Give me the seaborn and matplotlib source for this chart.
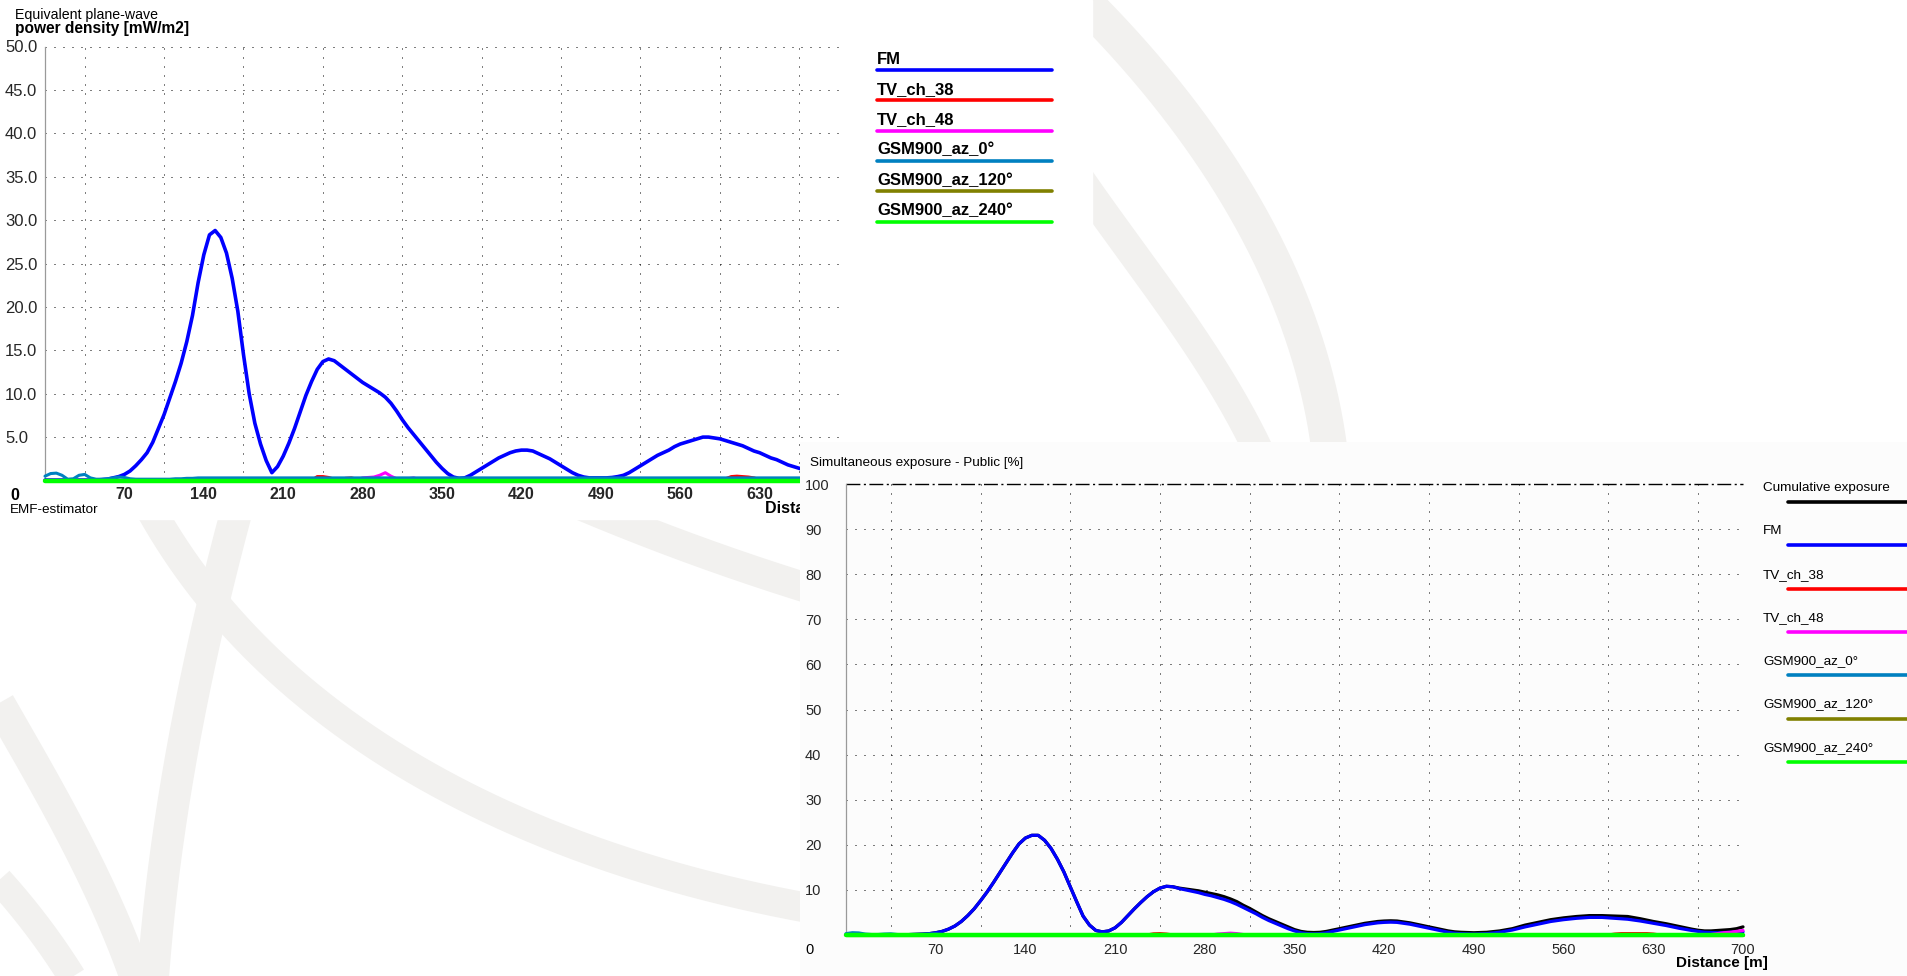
import numpy as np
import pandas as pd
import matplotlib
matplotlib.use("Agg")
import matplotlib.pyplot as plt
from matplotlib.transforms import Affine2D
from matplotlib.patches import Rectangle
from matplotlib.lines import Line2D
import seaborn as sns

# ---------------------------------------------------------------- data
distance = list(range(0, 701, 5))  # [m]

series_names = ["FM", "TV_ch_38", "TV_ch_48",
                "GSM900_az_0°", "GSM900_az_120°", "GSM900_az_240°"]
series_colors = ["#0000ff", "#ff0000", "#ff00ff",
                 "#0080c0", "#808000", "#00ff00"]

# Equivalent plane-wave power density [mW/m2]
pd_fm = ([0.05] * 10 +
         [0.1, 0.15, 0.3, 0.45, 0.7, 1.1, 1.7, 2.4, 3.2, 4.4,        # 50-95
          6.0, 7.6, 9.5, 11.4, 13.5, 16.0, 19.0, 22.8, 26.0, 28.3,   # 100-145
          28.8, 28.0, 26.2, 23.3, 19.5, 14.5, 10.0, 6.6, 4.2, 2.3,   # 150-195
          0.9, 1.6, 2.8, 4.3, 6.0, 7.9, 9.8, 11.4, 12.8, 13.7,       # 200-245
          14.0, 13.8, 13.3, 12.8, 12.3, 11.8, 11.3, 10.9, 10.5, 10.1,  # 250-295
          9.6, 8.9, 8.0, 7.0, 6.1, 5.3, 4.5, 3.7, 2.9, 2.1,          # 300-345
          1.4, 0.8, 0.4, 0.25, 0.3, 0.6, 1.0, 1.4, 1.8, 2.2,         # 350-395
          2.6, 2.9, 3.2, 3.4, 3.5, 3.5, 3.4, 3.1, 2.8, 2.5,          # 400-445
          2.1, 1.7, 1.3, 0.9, 0.6, 0.4, 0.3, 0.3, 0.3, 0.3,          # 450-495
          0.35, 0.45, 0.6, 0.9, 1.3, 1.7, 2.1, 2.5, 2.9, 3.2,        # 500-545
          3.5, 3.9, 4.2, 4.4, 4.6, 4.8, 5.0, 5.0, 4.9, 4.8,          # 550-595
          4.6, 4.4, 4.2, 4.0, 3.7, 3.4, 3.2, 2.9, 2.6, 2.4,          # 600-645
          2.1, 1.8, 1.6, 1.4, 1.2, 1.0, 0.9, 0.8, 0.7, 0.65, 0.6])   # 650-700
pd_tv38 = ([0.0] * 48 + [0.45, 0.45, 0.35, 0.15, 0.1, 0.25, 0.3, 0.15, 0.05] +
           [0.0] * 63 + [0.2, 0.45, 0.5, 0.45, 0.4, 0.3, 0.1] + [0.0] * 14)
pd_tv48 = ([0.0] * 55 +
           [0.1, 0.3, 0.35, 0.4, 0.6, 0.9, 0.5, 0.2, 0.1, 0.2, 0.3, 0.1, 0.0] +
           [0.0] * 69 + [0.2, 0.4, 0.7, 1.0])
pd_gsm0 = ([0.5, 0.8, 0.85, 0.6, 0.15, 0.2, 0.6, 0.7, 0.3, 0.15, 0.15,
            0.2, 0.3, 0.4, 0.35, 0.2, 0.15, 0.15, 0.15, 0.15, 0.15] +
           [0.15, 0.15, 0.2, 0.2, 0.25, 0.25, 0.3] + [0.3] * 113)
pd_gsm120 = [0.1] * 141
pd_gsm240 = [0.0] * 141

# Simultaneous exposure - Public [%]
ex_fm = ([0.05] * 10 +
         [0.1, 0.15, 0.2, 0.3, 0.5, 0.8, 1.3, 2.0, 3.0, 4.3,        # 50-95
          5.8, 7.6, 9.5, 11.6, 13.8, 16.0, 18.2, 20.2, 21.5, 22.1,   # 100-145
          22.1, 21.0, 19.2, 16.8, 14.0, 10.7, 7.4, 4.2, 2.2, 1.0,    # 150-195
          0.7, 0.9, 1.6, 2.8, 4.3, 5.8, 7.2, 8.5, 9.6, 10.4,         # 200-245
          10.8, 10.7, 10.3, 10.0, 9.7, 9.4, 9.0, 8.7, 8.3, 7.9,      # 250-295
          7.4, 6.8, 6.1, 5.4, 4.7, 3.9, 3.2, 2.6, 2.0, 1.4,          # 300-345
          0.9, 0.5, 0.3, 0.25, 0.3, 0.5, 0.8, 1.1, 1.4, 1.7,         # 350-395
          2.0, 2.3, 2.5, 2.7, 2.8, 2.85, 2.8, 2.6, 2.4, 2.1,         # 400-445
          1.8, 1.5, 1.2, 0.9, 0.6, 0.4, 0.3, 0.25, 0.2, 0.25,        # 450-495
          0.3, 0.45, 0.6, 0.85, 1.1, 1.45, 1.8, 2.1, 2.4, 2.7,       # 500-545
          3.0, 3.2, 3.4, 3.55, 3.7, 3.8, 3.9, 3.9, 3.9, 3.8,         # 550-595
          3.7, 3.6, 3.5, 3.3, 3.1, 2.85, 2.6, 2.35, 2.1, 1.8,        # 600-645
          1.5, 1.25, 1.0, 0.8, 0.6, 0.55, 0.5, 0.55, 0.6, 0.65, 0.7])  # 650-700
ex_cum = (ex_fm[:52] +
          [10.4, 10.2, 10.0, 9.8, 9.5, 9.2, 8.9, 8.5,                # 260-295
           8.0, 7.4, 6.6, 5.9, 5.1, 4.3, 3.6, 3.0, 2.4, 1.8,         # 300-345
           1.2, 0.8, 0.6, 0.55, 0.6, 0.8, 1.1, 1.4, 1.7, 2.0,        # 350-395
           2.3, 2.6, 2.8, 3.0, 3.1, 3.15, 3.1, 2.9, 2.7, 2.4,        # 400-445
           2.1, 1.8, 1.5, 1.2, 0.9, 0.7, 0.6, 0.55, 0.5, 0.55,       # 450-495
           0.6, 0.75, 0.9, 1.15, 1.4, 1.8, 2.2, 2.5, 2.8, 3.1,       # 500-545
           3.4, 3.6, 3.8, 3.95, 4.1, 4.2, 4.3, 4.3, 4.3, 4.25,       # 550-595
           4.2, 4.15, 4.1, 3.85, 3.6, 3.3, 3.0, 2.75, 2.5, 2.2,      # 600-645
           1.9, 1.6, 1.3, 1.05, 0.9, 0.9, 1.0, 1.1, 1.2, 1.4, 1.8])  # 650-700
ex_tv38 = ([0.0] * 48 + [0.25, 0.3, 0.2] + [0.0] * 69 +
           [0.2, 0.3, 0.3, 0.3, 0.3, 0.3, 0.2] + [0.0] * 14)
ex_tv48 = ([0.0] * 58 + [0.2, 0.3, 0.4, 0.3, 0.1] + [0.0] * 72 +
           [0.1, 0.3, 0.5, 0.6, 0.8, 1.0])
ex_gsm0 = ([0.3, 0.5, 0.45, 0.2, 0.1, 0.1, 0.2, 0.25, 0.1, 0.05, 0.05,
            0.05, 0.1, 0.15, 0.2, 0.1] + [0.05] * 125)
ex_gsm120 = [0.03] * 141
ex_gsm240 = [0.0] * 141

top_values = [pd_fm, pd_tv38, pd_tv48, pd_gsm0, pd_gsm120, pd_gsm240]
bot_names = ["Cumulative exposure"] + series_names
bot_colors = ["#000000"] + series_colors
bot_values = [ex_cum, ex_fm, ex_tv38, ex_tv48, ex_gsm0, ex_gsm120, ex_gsm240]
for vals in top_values + bot_values:
    assert len(vals) == len(distance), len(vals)


def long_form(names, values):
    frames = [pd.DataFrame({"distance": distance, "value": v, "series": n})
              for n, v in zip(names, values)]
    return pd.concat(frames, ignore_index=True)


df_top = long_form(series_names, top_values)
df_bot = long_form(bot_names, bot_values)

# ---------------------------------------------------------------- style
sns.set_style("white")
plt.rcParams["font.family"] = ["Liberation Sans", "DejaVu Sans"]
plt.rcParams["axes.unicode_minus"] = False

W, H = 1908, 976
fig = plt.figure(figsize=(W / 100, H / 100), dpi=100)
fig.patch.set_facecolor("white")
# pixel coordinates with the origin in the top-left corner
px = Affine2D().scale(1 / W, -1 / H).translate(0, 1) + fig.transFigure


def box(x0, y0, x1, y1):
    return [x0 / W, 1 - y1 / H, (x1 - x0) / W, (y1 - y0) / H]


def ftext(x, y, s, size, bold=False, z=6, ha="left", color="black"):
    fig.text(x, y, s, transform=px, fontsize=size, ha=ha, va="center",
             fontweight="bold" if bold else "normal", color=color, zorder=z)


# ---------------------------------------------------------------- backdrop
band_color = "#f2f1ef"
ax_bg = fig.add_axes([0, 0, 1, 1], zorder=0)
ax_bg.set_xlim(0, W)
ax_bg.set_ylim(H, 0)
ax_bg.axis("off")


def band(points, width):
    p = np.array(points, float)
    d = np.r_[0, np.cumsum(np.hypot(*np.diff(p, axis=0).T))]
    t = d / d[-1]
    deg = min(3, len(p) - 1)
    tt = np.linspace(0, 1, 300)
    bx = np.polyval(np.polyfit(t, p[:, 0], deg), tt)
    by = np.polyval(np.polyfit(t, p[:, 1], deg), tt)
    ax_bg.plot(bx, by, color=band_color, lw=width * 0.72,
               solid_capstyle="butt", zorder=1)


band([(1040, -40), (1100, 17), (1152, 77), (1229, 177), (1270, 267),
      (1306, 333), (1330, 460)], 36)
band([(1080, 180), (1135, 255), (1170, 305), (1205, 360), (1240, 410),
      (1262, 460)], 30)
band([(245, 480), (205, 640), (180, 760), (163, 880), (152, 990)], 32)
band([(135, 480), (200, 585), (247, 633), (304, 700), (379, 744),
      (517, 821), (798, 906), (830, 912)], 30)
band([(580, 505), (700, 552), (830, 595)], 30)
band([(-20, 670), (40, 775), (95, 880), (140, 990)], 32)
band([(-20, 860), (40, 930), (80, 990)], 28)

# white card of the power-density chart
ax_bg.add_patch(Rectangle((0, 0), 1092, 519, color="white", zorder=2))
# card of the exposure chart (sits above the power-density chart)
fig.add_artist(Rectangle((800, 442), W - 800, H - 442, transform=px,
                         facecolor="#fcfcfc", edgecolor="none", zorder=2))

grid_kw = dict(color="black", lw=0.72, ls=(0, (1, 8)))


def style_axes(ax):
    ax.set_facecolor("none")
    for side in ("top", "right", "bottom"):
        ax.spines[side].set_visible(False)
    ax.spines["left"].set_color("#9a9a9a")
    ax.spines["left"].set_linewidth(0.9)
    ax.set_xlabel("")
    ax.set_ylabel("")


def finish_lines(ax):
    for ln in ax.lines:
        ln.set_clip_on(False)
        ln.set_zorder(3)
        ln.set_solid_joinstyle("round")
        ln.set_solid_capstyle("round")


# ---------------------------------------------------------------- power density chart
ax_top = fig.add_axes(box(45, 46.5, 839, 480.5), zorder=1)
for name, color in zip(series_names, series_colors):
    lw = 3.2 if name == "GSM900_az_240°" else (2.6 if name == "FM" else 2.2)
    sns.lineplot(data=df_top[df_top["series"] == name], x="distance", y="value",
                 color=color, linewidth=lw, legend=False, ax=ax_top,
                 estimator=None, sort=False)
finish_lines(ax_top)
ax_top.set_xlim(0, 700)
ax_top.set_ylim(0, 50)
style_axes(ax_top)
ax_top.set_xticks(np.arange(70, 701, 70))
ax_top.set_xticklabels([str(v) for v in range(70, 701, 70)],
                       fontsize=11.5, fontweight="bold")
ax_top.set_xticks(np.arange(35, 701, 35), minor=True)
ax_top.set_yticks(np.arange(5, 51, 5))
ax_top.set_yticklabels([f"{v:.1f}" for v in np.arange(5, 51, 5)], fontsize=12)
for lab in ax_top.get_yticklabels():
    lab.set_horizontalalignment("left")
ax_top.tick_params(axis="y", length=0, pad=40 * 0.72)
ax_top.tick_params(axis="x", which="both", length=0, pad=4.5)
ax_top.xaxis.grid(True, which="minor", **grid_kw)
ax_top.xaxis.grid(False, which="major")
ax_top.yaxis.grid(True, which="major", **grid_kw)
ax_top.set_axisbelow(True)

ftext(15, 15, "Equivalent plane-wave", 10.2, z=1.5)
ftext(15, 29, "power density [mW/m2]", 11.2, bold=True, z=1.5)
ftext(10, 495, "0", 11.5, bold=True, z=1.5)
ftext(10, 510, "EMF-estimator", 9.7, z=1.5)
ftext(765, 508, "Distance [m]", 11.5, bold=True, z=1.5)

# legend of the power-density chart
for i, (name, color) in enumerate(zip(series_names, series_colors)):
    y = 59 + i * 30.3
    ftext(877, y, name, 12, bold=True, z=6)
    fig.add_artist(Line2D([877, 1052], [y + 11, y + 11], transform=px,
                          color=color, lw=2.6, solid_capstyle="round", zorder=6))

# ---------------------------------------------------------------- exposure chart
ax_bot = fig.add_axes(box(846, 484, 1743, 935), zorder=3)
for name, color in zip(bot_names, bot_colors):
    lw = 3.2 if name == "GSM900_az_240°" else 2.3
    sns.lineplot(data=df_bot[df_bot["series"] == name], x="distance", y="value",
                 color=color, linewidth=lw, legend=False, ax=ax_bot,
                 estimator=None, sort=False)
finish_lines(ax_bot)
ax_bot.set_xlim(0, 700)
ax_bot.set_ylim(0, 100)
style_axes(ax_bot)
ax_bot.axhline(100, color="black", lw=1.0, ls=(0, (10, 2.5, 1.5, 2.5)),
               zorder=2, clip_on=False)
ax_bot.set_xticks(np.arange(70, 701, 70))
ax_bot.set_xticklabels([str(v) for v in range(70, 701, 70)], fontsize=10.5)
ax_bot.set_xticks(np.arange(35, 701, 35), minor=True)
ax_bot.set_yticks(np.arange(10, 101, 10))
ax_bot.set_yticklabels([str(v) for v in range(10, 101, 10)], fontsize=10.5)
for lab in ax_bot.get_yticklabels():
    lab.set_horizontalalignment("left")
ax_bot.tick_params(axis="y", length=0, pad=41 * 0.72)
ax_bot.tick_params(axis="x", which="both", length=0, pad=6)
ax_bot.xaxis.grid(True, which="minor", **grid_kw)
ax_bot.xaxis.grid(False, which="major")
ax_bot.yaxis.grid(True, which="major", **grid_kw)
ax_bot.yaxis.get_gridlines()[-1].set_visible(False)
ax_bot.set_axisbelow(True)

ftext(810, 463, "Simultaneous exposure - Public [%]", 9.7, z=6)
ftext(805, 950, "0", 10.5, z=6)
ftext(1768, 963, "Distance [m]", 11, bold=True, ha="right", z=6)

for i, (name, color) in enumerate(zip(bot_names, bot_colors)):
    y = 488 + i * 43.3
    ftext(1763, y, name, 9.7, z=6)
    fig.add_artist(Line2D([1788, 1912], [y + 14, y + 14], transform=px,
                          color=color, lw=2.6, solid_capstyle="round", zorder=6))

fig.savefig("out.png", dpi=100, facecolor="white")
